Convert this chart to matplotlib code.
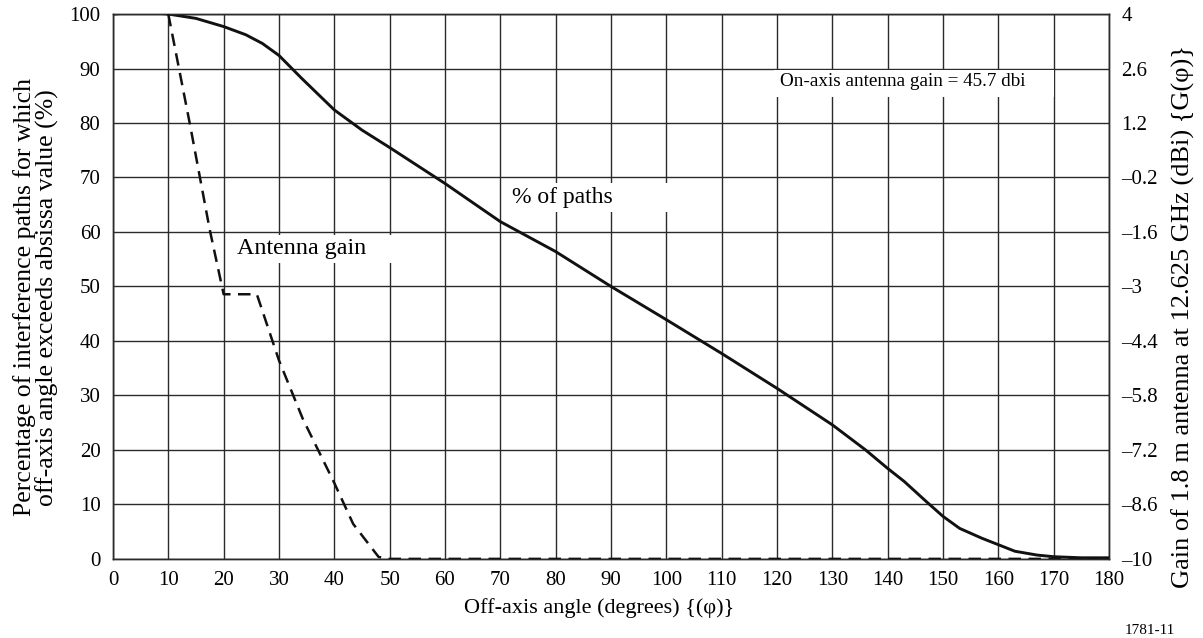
import numpy as np
import matplotlib
matplotlib.use("Agg")
import matplotlib.pyplot as plt
from matplotlib.patches import Rectangle

plt.rcParams["font.family"] = ["Liberation Serif", "DejaVu Serif"]

# % of paths (left axis)
ANGLE_PATHS = [0, 3, 6, 10, 15, 20, 24, 27, 30, 34, 40, 45, 50, 60, 70, 80, 90,
               100, 110, 120, 130, 136, 140, 143, 147, 150, 153, 157, 160,
               163, 167, 170, 175, 180]
PCT_PATHS = [100, 100.2, 100.3, 100, 99.2, 97.7, 96.2, 94.6, 92.4, 88.3, 82.4,
             78.7, 75.5, 68.9, 61.9, 56.4, 50, 43.9, 37.7, 31.3, 24.6, 20, 16.6,
             14.2, 10.5, 7.8, 5.6, 3.8, 2.6, 1.4, 0.7, 0.4, 0.2, 0.2]

# antenna gain (right axis, dBi)
ANGLE_GAIN = [10, 14, 17.5, 20, 26, 30, 34.3, 40, 43.4, 48, 50, 180]
GAIN = [4.0, 1.1, -1.55, -3.2, -3.2, -4.9, -6.4, -8.05, -9.1, -9.95, -10, -10]

X_TICKS = list(range(0, 181, 10))
Y_TICKS = list(range(0, 101, 10))
GAIN_TICKS = [-10, -8.6, -7.2, -5.8, -4.4, -3, -1.6, -0.2, 1.2, 2.6, 4]
GAIN_LABELS = ["\u201310", "\u20138.6", "\u20137.2", "\u20135.8", "\u20134.4", "\u20133",
               "\u20131.6", "\u20130.2", "1.2", "2.6", "4"]

GRID = "#2b2b2b"

fig = plt.figure(figsize=(12.03, 6.38), dpi=100)
ax = fig.add_axes([0.0939, 0.124, 0.828, 0.854])
ax2 = ax.twinx()

ax.set_xlim(0, 180)
ax.set_ylim(0, 100)
ax2.set_ylim(-10, 4)

ax.set_xticks(X_TICKS)
ax.set_yticks(Y_TICKS)
ax2.set_yticks(GAIN_TICKS)
ax2.set_yticklabels(GAIN_LABELS)
ax.grid(True, color=GRID, lw=1.0)
ax.set_axisbelow(True)
for a in (ax, ax2):
    a.tick_params(length=0, labelsize=15, pad=9)
    for s in a.spines.values():
        s.set_color(GRID)
        s.set_linewidth(1.0)

# white boxes behind the labels
for x0, y0, w, h in [(70.8, 63.7, 33.5, 5.3), (21.1, 54.3, 35.5, 5.1),
                     (119.5, 84.8, 50.5, 5.0)]:
    ax.add_patch(Rectangle((x0, y0), w, h, facecolor="white", edgecolor="none",
                           zorder=1.5))

ax.plot(ANGLE_PATHS, PCT_PATHS, color="#111111", lw=2.1, zorder=3,
        solid_capstyle="round")
ax2.plot(ANGLE_GAIN, GAIN, color="#111111", lw=1.8, dashes=(5, 3), zorder=3)

ax.text(72.1, 66.4, "% of paths", fontsize=17, va="center", ha="left", zorder=2)
ax.text(22.4, 56.9, "Antenna gain", fontsize=17.3, va="center", ha="left", zorder=2)
ax.text(120.5, 87.6, "On-axis antenna gain = 45.7 dbi", fontsize=13.8,
        va="center", ha="left", zorder=2)

ax.set_xlabel("Off-axis angle (degrees) {(\u03c6)}", fontsize=16)
ax.xaxis.set_label_coords(0.488, -0.072)
ax.set_ylabel("Percentage of interference paths for which\n"
              "off-axis angle exceeds absissa value (%)", fontsize=18.5,
              linespacing=1.0)
ax.yaxis.set_label_coords(-0.054, 0.48)
ax2.set_ylabel("Gain of 1.8 m antenna at 12.625 GHz (dBi) {G(\u03c6)}",
               fontsize=19)
ax2.yaxis.set_label_coords(1.063, 0.445)

fig.text(0.956, 0.012, "1781-11", fontsize=11, ha="center", va="center")

fig.savefig("out.png", dpi=100)
